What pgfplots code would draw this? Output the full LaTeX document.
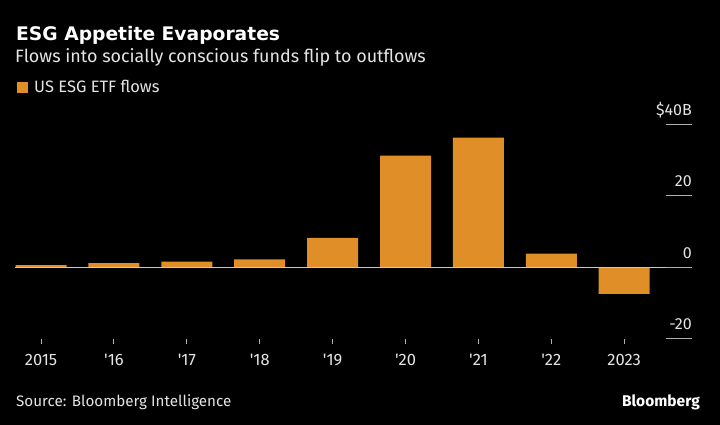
\documentclass[border=0pt]{standalone}
\usepackage{pgfplots}
\pgfplotsset{compat=1.18}
\usepackage{fontspec}
\setmainfont{Fira Sans}
\newfontfamily\titlefont{DejaVu Sans}
\definecolor{barc}{RGB}{224,142,40}
\definecolor{txt}{RGB}{228,228,228}
\definecolor{tk}{RGB}{175,175,175}
\definecolor{zero}{RGB}{200,200,200}
\begin{document}
\begin{tikzpicture}[x=1pt,y=1pt]
\fill[black] (0,0) rectangle (720,425);
\useasboundingbox (0,0) rectangle (720,425);
\node[anchor=base west, inner sep=0pt, text=white, font=\titlefont\fontsize{18.7}{22}\selectfont\bfseries] at (16,384) {ESG Appetite Evaporates};
\node[anchor=base west, inner sep=0pt, text=txt, font=\fontsize{17.9}{20}\selectfont] at (15,362.5) {Flows into socially conscious funds flip to outflows};
\fill[barc] (17,332) rectangle (28,343);
\node[anchor=base west, inner sep=0pt, text=txt, font=\fontsize{16.5}{18}\selectfont] at (34,332) {US ESG ETF flows};
\node[anchor=base west, inner sep=0pt, text=txt, font=\fontsize{15.2}{17}\selectfont] at (16,18) {Source: Bloomberg Intelligence};
\node[anchor=base east, inner sep=0pt, text=white, font=\fontsize{15.5}{18}\selectfont\bfseries] at (700,18) {Bloomberg};
\begin{axis}[
  at={(15pt,86pt)}, anchor=south west,
  width=677pt, height=215pt, scale only axis,
  xmin=-0.357, xmax=8.93, ymin=-20, ymax=40,
  axis line style={draw=none},
  ybar, bar width=51pt,
  xtick={0,...,8},
  xticklabels={2015,\textquotesingle16,\textquotesingle17,\textquotesingle18,\textquotesingle19,\textquotesingle20,\textquotesingle21,\textquotesingle22,2023},
  xtick pos=left, ytick=\empty,
  major tick length=0pt, tick style={draw=none},
  xticklabel style={text=txt, font=\fontsize{16.5}{18}\selectfont, anchor=base, inner sep=0pt, yshift=-27pt},
  clip=false,
]
\addplot[draw=none, fill=barc] coordinates {
  (0,0.6) (1,1.2) (2,1.6) (3,2.2) (4,8.25) (5,31.2) (6,36.2) (7,3.8) (8,-7.4)
};
\draw[zero, line width=1.2pt] (axis cs:-0.357,0) -- (axis cs:8.93,0);
\pgfplotsinvokeforeach{0,...,8}{
  \draw[tk, line width=1pt] (axis cs:#1,-20) -- ++(0pt,-5.5pt);
}
\end{axis}
\begin{axis}[
  at={(666pt,86pt)}, anchor=south west,
  width=26pt, height=215pt, scale only axis,
  xmin=0, xmax=1, ymin=-20, ymax=40,
  axis line style={draw=none},
  xtick=\empty,
  ytick={-20,0,20,40}, yticklabels={-20,0,20,\$40B},
  ymajorgrids, grid style={tk, line width=1pt},
  major tick length=0pt, tick style={draw=none},
  yticklabel pos=right,
  yticklabel style={text=txt, font=\fontsize{16}{18}\selectfont, anchor=base east, inner sep=0pt, yshift=9pt},
  clip=false,
]
\end{axis}
\end{tikzpicture}
\end{document}
